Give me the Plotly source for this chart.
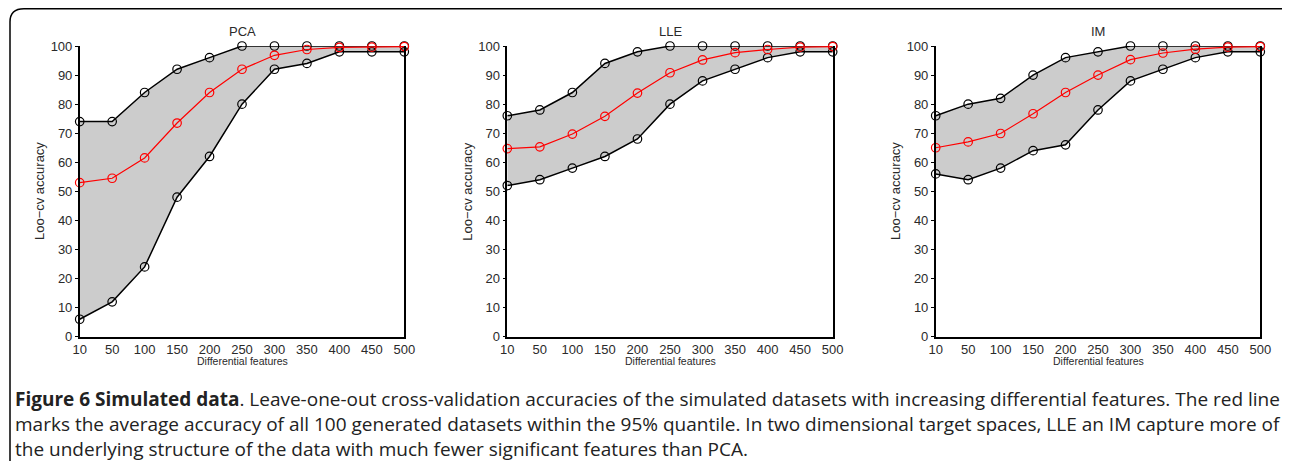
import plotly.graph_objects as go

features = ["10", "50", "100", "150", "200", "250", "300", "350", "400", "450", "500"]
y_ticks = [0, 10, 20, 30, 40, 50, 60, 70, 80, 90, 100]

methods = ["PCA", "LLE", "IM"]

pca_upper = [74, 74, 84, 92, 96, 100, 100, 100, 100, 100, 100]
pca_lower = [6, 12, 24, 48, 62, 80, 92, 94, 98, 98, 98]
pca_mean = [53, 54.5, 61.5, 73.5, 84, 92, 96.8, 98.8, 99.5, 99.6, 99.8]

lle_upper = [76, 78, 84, 94, 98, 100, 100, 100, 100, 100, 100]
lle_lower = [52, 54, 58, 62, 68, 80, 88, 92, 96, 98, 98]
lle_mean = [64.7, 65.3, 69.7, 75.8, 83.8, 90.8, 95.2, 97.7, 98.8, 99.6, 99.8]

im_upper = [76, 80, 82, 90, 96, 98, 100, 100, 100, 100, 100]
im_lower = [56, 54, 58, 64, 66, 78, 88, 92, 96, 98, 98]
im_mean = [65, 67, 69.9, 76.7, 84, 90, 95.3, 97.6, 98.9, 99.6, 99.8]

data = {
    "PCA": (pca_upper, pca_lower, pca_mean),
    "LLE": (lle_upper, lle_lower, lle_mean),
    "IM": (im_upper, im_lower, im_mean),
}

# The page body has an 8px default margin, so the figure is sized to the
# remaining viewport and layout positions are given in screen pixels.
OFF = 8
W, H = 1292 - 2 * OFF, 469 - 2 * OFF
panels_px = [(79.7, 404.3), (507.3, 832.7), (935.7, 1260.3)]
top_px, bottom_px = 46, 336.7

def px(x):
    return (x - OFF) / W

def py(y):
    return 1 - (y - OFF) / H

fig = go.Figure()
xs = list(range(len(features)))

tick_font = dict(family="Liberation Sans, Arial, sans-serif", size=13, color="#2a2a2a")

for i, m in enumerate(methods):
    up, lo, mean = data[m]
    n = "" if i == 0 else str(i + 1)
    xa, ya = "x" + n, "y" + n
    fig.add_trace(go.Scatter(x=xs, y=lo, xaxis=xa, yaxis=ya, mode="lines",
                             line=dict(color="rgba(0,0,0,0)", width=0),
                             showlegend=False, hoverinfo="skip"))
    fig.add_trace(go.Scatter(x=xs, y=up, xaxis=xa, yaxis=ya, mode="lines",
                             line=dict(color="rgba(0,0,0,0)", width=0),
                             fill="tonexty", fillcolor="#cccccc",
                             showlegend=False, hoverinfo="skip"))
    for series, col, lw in ((up, "black", 1.5), (lo, "black", 1.5), (mean, "#ff0000", 1.2)):
        fig.add_trace(go.Scatter(x=xs, y=series, xaxis=xa, yaxis=ya, mode="lines+markers",
                                 line=dict(color=col, width=lw),
                                 marker=dict(symbol="circle-open", size=8.5, color=col,
                                             line=dict(color=col, width=1.2)),
                                 cliponaxis=False, showlegend=False))
    l, r = panels_px[i]
    dom_x = [px(l), px(r)]
    dom_y = [py(bottom_px), py(top_px)]
    fig.layout["xaxis" + n] = dict(
        domain=dom_x, anchor=ya, range=[0, len(features) - 1], automargin=False,
        tickmode="array", tickvals=xs, ticktext=features,
        showgrid=False, zeroline=False, showline=True, linecolor="black", linewidth=1.5,
        ticks="", tickfont=tick_font,
    )
    fig.layout["yaxis" + n] = dict(
        domain=dom_y, anchor=xa, range=[0, 100], automargin=False,
        tickmode="array", tickvals=y_ticks,
        showgrid=False, zeroline=False, showline=True, linecolor="black", linewidth=1.5,
        mirror=True, ticks="outside", ticklen=3, tickwidth=1.2, tickcolor="black",
        tickfont=tick_font,
    )
    cx = (l + r) / 2
    fig.add_annotation(text=m, xref="paper", yref="paper", x=px(cx),
                       y=py(31), xanchor="center", yanchor="middle", showarrow=False,
                       font=dict(family="Liberation Sans, Arial, sans-serif", size=13, color="#2a2a2a"))
    fig.add_annotation(text="Differential features", xref="paper", yref="paper", x=px(cx),
                       y=py(361), xanchor="center", yanchor="middle", showarrow=False,
                       font=dict(family="Liberation Sans, Arial, sans-serif", size=10.5, color="#2a2a2a"))
    fig.add_annotation(text="Loo\u2212cv accuracy", xref="paper", yref="paper", x=px(l - 40),
                       y=py((top_px + bottom_px) / 2), xanchor="center", yanchor="middle",
                       textangle=-90, showarrow=False,
                       font=dict(family="Liberation Sans, Arial, sans-serif", size=13, color="#2a2a2a"))

cap_font = dict(family="Open Sans, sans-serif", size=19, color="#222222")
captions = [
    "<b>Figure 6 Simulated data</b>. Leave-one-out cross-validation accuracies of the simulated datasets with increasing differential features. The red line",
    "marks the average accuracy of all 100 generated datasets within the 95% quantile. In two dimensional target spaces, LLE an IM capture more of",
    "the underlying structure of the data with much fewer significant features than PCA.",
]
for k, c in enumerate(captions):
    fig.add_annotation(text=c, xref="paper", yref="paper", x=px(13), y=py(399 + 25 * k),
                       xanchor="left", yanchor="middle", showarrow=False, font=cap_font)

frame = (f"M {px(10)} {py(462)} L {px(10)} {py(22)} "
         f"Q {px(10)} {py(8.8)} {px(24)} {py(8.8)} L {px(1282)} {py(8.8)}")
fig.add_shape(type="path", path=frame, xref="paper", yref="paper",
              line=dict(color="black", width=1.5))

fig.update_layout(width=W, height=H, margin=dict(l=0, r=0, t=0, b=0, pad=0, autoexpand=False),
                  plot_bgcolor="white", paper_bgcolor="white", showlegend=False)

fig.write_html("out.html")
